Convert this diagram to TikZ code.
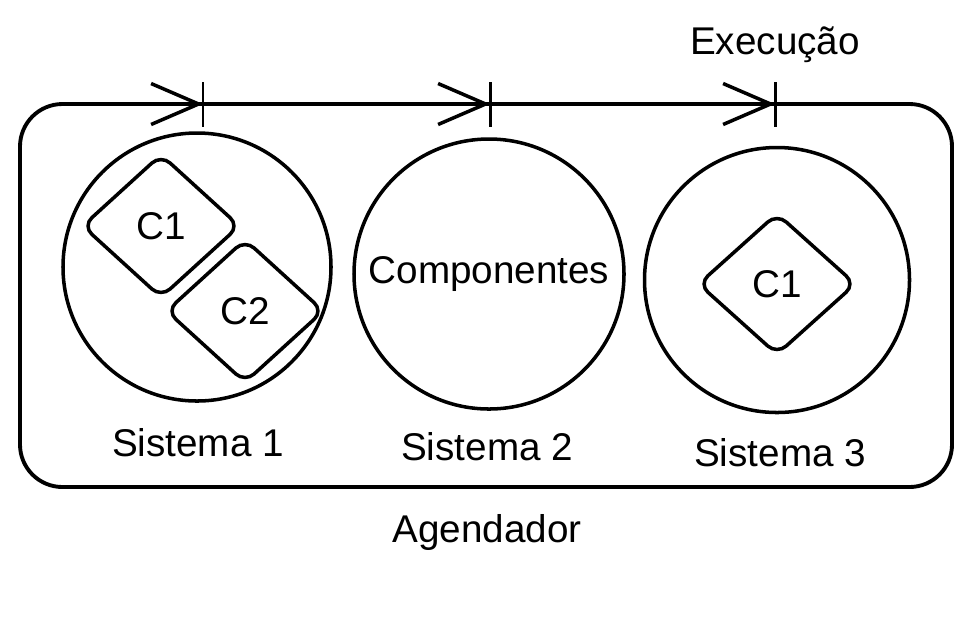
\documentclass[tikz,border=0pt]{standalone}
\usepackage{fontspec}
\setmainfont{Liberation Sans}
\usetikzlibrary{shapes.geometric,arrows.meta}

\begin{document}
\begin{tikzpicture}[x=0.02cm,y=-0.02cm,
     sis/.style={draw,circle,line width=2pt,inner sep=0pt,minimum size=268*0.02cm,font=\fontsize{22}{26}\selectfont},
     comp/.style={draw,diamond,rounded corners=7pt,line width=2pt,inner sep=0pt,minimum width=158*0.02cm,minimum height=144*0.02cm,font=\fontsize{22}{26}\selectfont},
     lbl/.style={font=\fontsize{22}{26}\selectfont},
     exec/.style={line width=2pt,-{Straight Barb[length=0.95cm,width=0.82cm]}},
     tick/.style={line width=1.7pt}
     ]
%Page size of the reference
\useasboundingbox (0,0) rectangle (969,627);

%The scheduler box
\node (ag) [draw,rounded corners=0.85cm,line width=2.2pt,minimum width=932*0.02cm,minimum height=383*0.02cm] at (486,295.5) {};
\node (agl) [lbl] at (487,532) {Agendador};

%Time line on top of the box
\foreach \x [count=\i] in {203,490,775}
   {
   \coordinate (t\i) at (\x,104);
   \draw[tick] (t\i) ++(0,-22) -- ++(0,45);
   \draw[exec] (t\i) ++(-62,0) -- (t\i);
   }
\node (ex) [lbl] at (775,45) {Execução};

%Systems
\node (S1) [sis] at (197,267) {};
\node (S2) [sis,minimum size=270*0.02cm] at (489,274) {Componentes};
\node (S3) [sis,minimum size=265*0.02cm] at (777,280) {};

%Components
\node (C11) [comp] at (161,226) {C1};
\node (C12) [comp] at (245,311) {C2};
\node (C31) [comp,minimum width=158*0.02cm,minimum height=142*0.02cm] at (777,284) {C1};

%Labels of the systems
\node (l1) [lbl] at (198,443) {Sistema 1};
\node (l2) [lbl] at (487,447) {Sistema 2};
\node (l3) [lbl] at (780,453) {Sistema 3};
\end{tikzpicture}
\end{document}
